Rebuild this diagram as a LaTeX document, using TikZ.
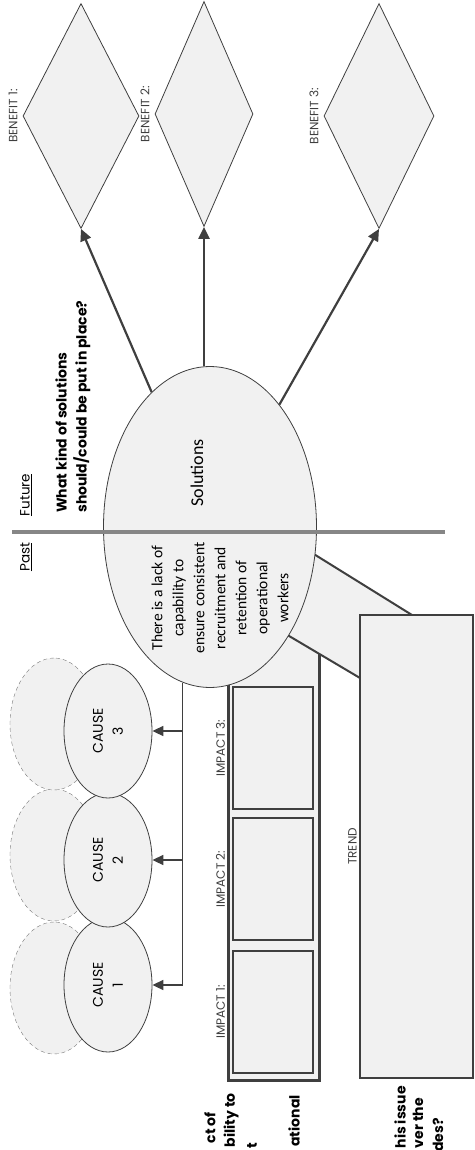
\documentclass[tikz,border=0pt]{standalone}
\usepackage{fontspec}
\setmainfont{Carlito}
\newfontfamily\geo{Poppins}
\usepackage{tikz}
\usetikzlibrary{shapes.geometric}
\usetikzlibrary{calc,arrows.meta}
\definecolor{lite}{HTML}{F1F1F1}
\definecolor{ink}{HTML}{3F3F3F}
\definecolor{rulegray}{HTML}{868686}

\begin{document}
\begin{tikzpicture}[x=1pt,y=-1pt,
	shape box/.style={draw=ink,fill=lite},
	benefit/.style={shape box,diamond,line width=.8pt,inner sep=0pt},
	cause/.style={shape box,ellipse,rotate=90,line width=.8pt,minimum width=134pt,minimum height=88pt,inner sep=0pt,align=center,font=\geo\fontsize{14}{20}\selectfont},
	ghost/.style={ellipse,draw=ink!70,fill=lite,dash pattern=on 4pt off 3pt,rotate=90,minimum width=132pt,minimum height=88pt},
	tag/.style={rotate=90,inner sep=0pt,text=ink,font=\geo\fontsize{12}{13}\selectfont},
	ask/.style={rotate=90,inner sep=0pt,align=left,font=\geo\bfseries\fontsize{14}{20}\selectfont},
	fat arrow/.style={draw=ink,line width=2.2pt,-{Triangle[length=12pt,width=11pt]}},
	thin arrow/.style={draw=ink,line width=1.6pt,-{Triangle[length=11pt,width=10pt]}}]
	\useasboundingbox (0,0) rectangle (474,1150);
	%dashed ellipses behind the causes
	%% causes drawn with a loop
	\foreach \i/\y/\g in {1/985/988, 2/860/855, 3/731/724}{
		\node[ghost] (g\i) at (54,\g) {};
		}
	\foreach \i/\y in {1/985, 2/860, 3/731}{
		\node[cause] (c\i) at (108,\y) {CAUSE\\\i};
		}
	%impact frame, its top is hidden under the ellipse
	\draw[shape box,line width=3pt] (228,610) rectangle (319,1080);
	\foreach \i/\y in {1/1012, 2/879, 3/748}{
		\node[shape box,line width=1.8pt,minimum width=80pt,minimum height=122pt,inner sep=0pt] (i\i) at (273,\y) {};
		\node[tag,anchor=south] (it\i) at ($(i\i.west)+(-7,0)$) {IMPACT \i:};
		}
	%trend box with its pointer
	\draw[shape box,line width=2pt] (412,615) -- (230,502) -- (230,601) -- (360,678) -- cycle;
	\node[shape box,line width=2.4pt,minimum width=113pt,minimum height=463pt] (tr) at (416.5,846.5) {};
	\node[tag,anchor=south] (tt) at ($(tr.west)+(-2,0)$) {TREND};
	%the issue and the past/future line
	\node[shape box,ellipse,line width=.8pt,minimum width=213pt,minimum height=321pt] (sol) at (210,527) {};
	\draw[rulegray,line width=4pt] (12,532) -- (445,532);
	\node[rotate=90,font=\fontsize{18}{22}\selectfont] (soltext) at (197,473) {Solutions};
	\node[rotate=90,align=center,font=\fontsize{15.5}{21}\selectfont] (issue) at (220,598) {There is a lack of\\capability to\\ensure consistent\\recruitment and\\retention of\\operational\\workers};
	\node[rotate=90,font=\geo\fontsize{13.5}{15}\selectfont] (fut) at (26,495) {\underline{Future}};
	\node[rotate=90,font=\geo\fontsize{13.5}{15}\selectfont] (past) at (26,557) {\underline{Past}};
	\node[ask,anchor=west] (q) at (73,513) {What kind of solutions\\should/could be put in place?};
	\foreach \x/\y/\t in {210/1112/ct of, 231/1093/bility to, 252/1143/t, 294/1095/ational, 400/1086/his issue, 418/1098/ver the, 438/1118/des?}{
		\node[ask,anchor=east] (f\x) at (\x,\y) {\t};
		}
	%benefits
	\foreach \i/\x/\y/\w in {1/81/116/116, 2/204/114/98, 3/379/116/110}{
		\node[benefit,minimum width=\w pt,minimum height=225pt] (b\i) at (\x,\y) {};
		\node[tag,anchor=south] (bt\i) at ($(b\i.west)+(-5,0)$) {BENEFIT \i:};
		}
	\draw[fat arrow] (sol) -- (b1.south);
	\draw[fat arrow] (sol.north -| b2.south) -- (b2.south);
	\draw[fat arrow] (sol) -- (b3.south);
	%trunk down to the causes
	\draw[ink,line width=1pt] (sol.-100) -- (sol.-100 |- c1);
	\foreach \i in {1,2,3}{
		\draw[thin arrow] (sol.-100 |- c\i) -- (c\i);
		}
\end{tikzpicture}
\end{document}
